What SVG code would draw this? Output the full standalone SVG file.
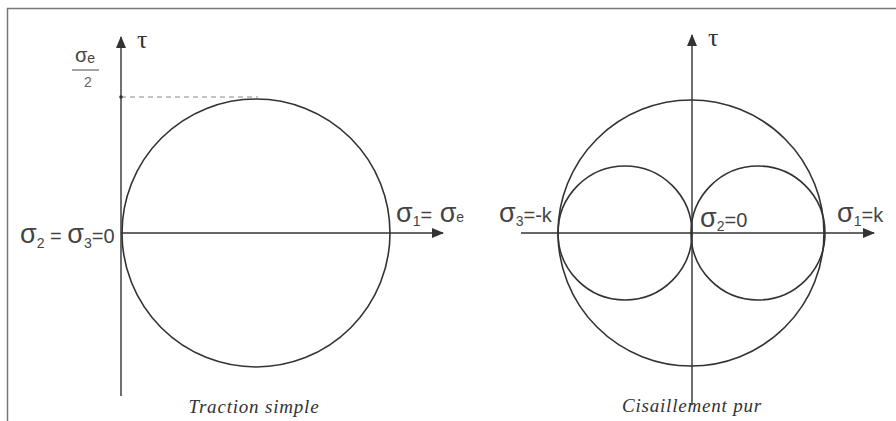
<svg xmlns="http://www.w3.org/2000/svg" width="896" height="421" viewBox="0 0 896 421">
<style>
.ln{stroke:#333;stroke-width:1.6;fill:none}
.ax{stroke:#333;stroke-width:1.4;fill:none}
.lb{font-family:"Liberation Sans","DejaVu Sans",sans-serif;font-size:20px;fill:#444}
.sg{font-size:27px}
.sb{font-size:14px}
.tau{font-family:"Liberation Serif","DejaVu Serif",serif;font-size:26px;fill:#333}
.cap{font-family:"Liberation Serif","DejaVu Serif",serif;font-style:italic;font-size:19px;fill:#333;letter-spacing:0.8px}
</style>
<defs>
<marker id="ar" viewBox="0 0 12 10" refX="11" refY="5" markerWidth="12" markerHeight="10" markerUnits="userSpaceOnUse" orient="auto">
<path d="M0,0 L12,5 L0,10 Z" fill="#333"/>
</marker>
</defs>
<rect x="0" y="0" width="896" height="421" fill="#fff"/>
<path d="M7.5,421 V8.5 H896" stroke="#777" stroke-width="1.5" fill="none"/>

<g id="connectors">
<line class="ax" x1="121" y1="396" x2="121" y2="37" marker-end="url(#ar)"/>
<line class="ax" x1="121" y1="233" x2="443" y2="233" marker-end="url(#ar)"/>
<line x1="121" y1="97" x2="258" y2="97" stroke="#888" stroke-width="1" stroke-dasharray="5,4"/>
<circle cx="121" cy="97" r="1.8" fill="#333"/>
<line class="ax" x1="692" y1="405" x2="692" y2="35" marker-end="url(#ar)"/>
<line class="ax" x1="521" y1="233" x2="874" y2="233" marker-end="url(#ar)"/>
</g>

<g id="traction">
<circle class="ln" cx="256" cy="233" r="134"/>
<text class="tau" x="137" y="48">τ</text>
<text class="lb" x="75" y="62" style="font-size:20px">σ<tspan class="sb" dy="1">e</tspan></text>
<line x1="72" y1="70" x2="99" y2="70" stroke="#666" stroke-width="1.2"/>
<text class="lb" x="84" y="87" style="font-size:14px;fill:#666">2</text>
<text class="lb" x="20" y="243"><tspan class="sg">σ</tspan><tspan class="sb" dy="5">2</tspan><tspan dy="-5"> = </tspan><tspan class="sg">σ</tspan><tspan class="sb" dy="5">3</tspan><tspan dy="-5">=0</tspan></text>
<text class="lb" x="396" y="222"><tspan class="sg">σ</tspan><tspan class="sb" dy="4">1</tspan><tspan dy="-4">=</tspan><tspan class="sg"> σ</tspan><tspan class="sb">e</tspan></text>
<text class="cap" x="254" y="413" text-anchor="middle">Traction simple</text>
</g>

<g id="cisaillement">
<circle class="ln" cx="691" cy="233" r="133"/>
<circle class="ln" cx="625" cy="233" r="67"/>
<circle class="ln" cx="758" cy="233" r="67"/>
<text class="tau" x="708" y="46">τ</text>
<text class="lb" x="499" y="222"><tspan class="sg">σ</tspan><tspan class="sb" dy="4">3</tspan><tspan dy="-4">=-k</tspan></text>
<text class="lb" x="700" y="227"><tspan class="sg">σ</tspan><tspan class="sb" dy="4">2</tspan><tspan dy="-4">=0</tspan></text>
<text class="lb" x="837" y="222"><tspan class="sg">σ</tspan><tspan class="sb" dy="4">1</tspan><tspan dy="-4">=k</tspan></text>
<text class="cap" x="692" y="412" text-anchor="middle">Cisaillement pur</text>
</g>
</svg>
